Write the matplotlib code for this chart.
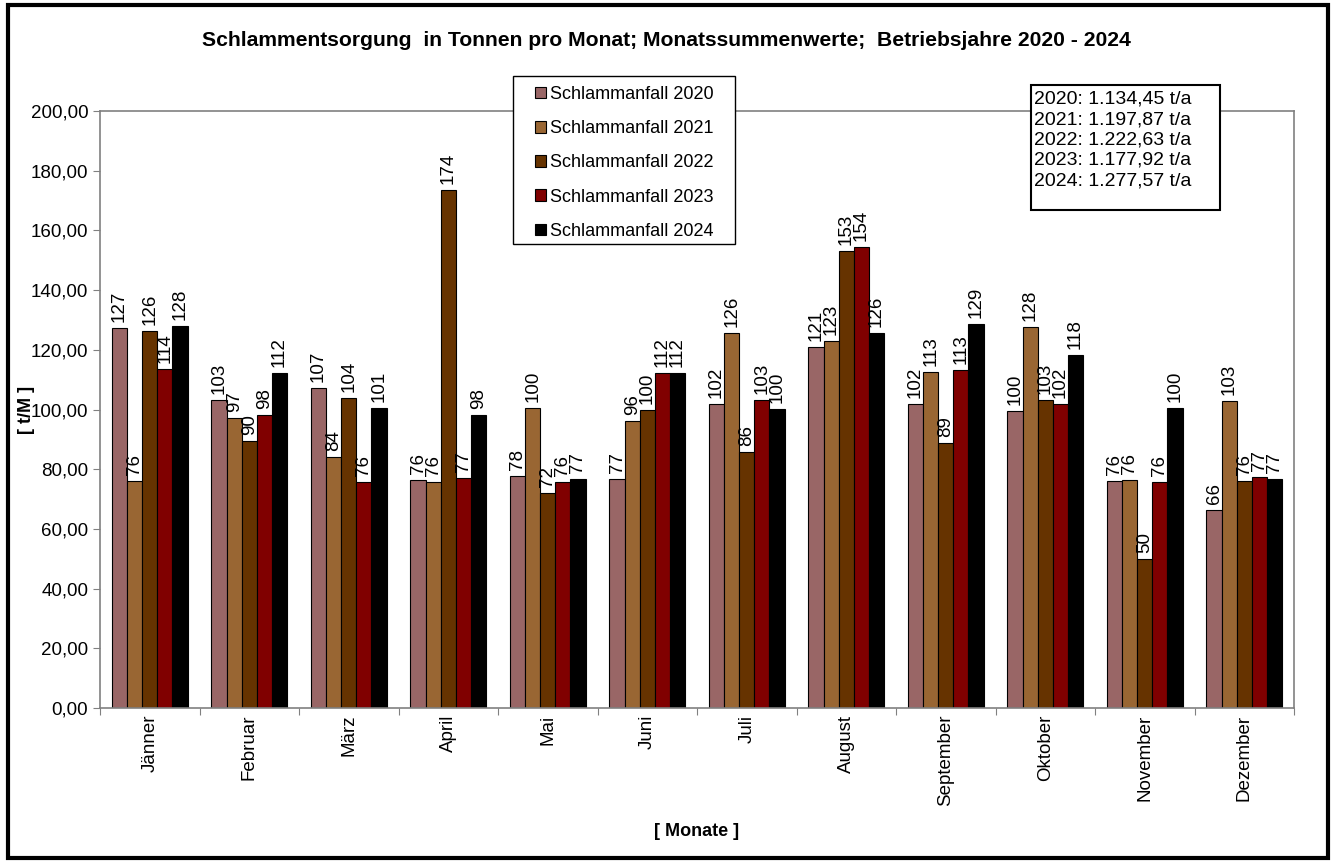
import matplotlib.pyplot as plt
import matplotlib.patches as mpatches
import numpy as np

plt.rcParams['font.family'] = ['Liberation Sans', 'DejaVu Sans']

# Monate und Monatssummen (t/M)
monate = ["Jänner", "Februar", "März", "April", "Mai", "Juni", "Juli",
          "August", "September", "Oktober", "November", "Dezember"]
w2020 = [127.4, 103.3, 107.2, 76.4, 77.6, 76.6, 101.8, 120.9, 102.0, 99.5, 75.9, 66.2]
w2021 = [76.1, 97.1, 84.2, 75.6, 100.4, 96.2, 125.6, 122.8, 112.7, 127.5, 76.4, 102.9]
w2022 = [126.3, 89.6, 103.7, 173.6, 72.1, 99.9, 85.9, 153.2, 88.9, 103.2, 49.8, 76.1]
w2023 = [113.5, 98.2, 75.7, 76.9, 75.8, 112.1, 103.1, 154.3, 113.2, 101.9, 75.6, 77.3]
w2024 = [128.1, 112.2, 100.6, 98.2, 76.6, 112.1, 100.3, 125.5, 128.7, 118.2, 100.4, 76.8]

jahre = ["2020", "2021", "2022", "2023", "2024"]
farben = ["#996666", "#996633", "#663300", "#800000", "#000000"]
summen = ["1.134,45", "1.197,87", "1.222,63", "1.177,92", "1.277,57"]

serien = [w2020, w2021, w2022, w2023, w2024]

W, H = 1333, 863
fig = plt.figure(figsize=(W / 100, H / 100), dpi=100)
ax = fig.add_axes([100 / W, 1 - 708 / H, 1194 / W, 597 / H])

x = np.arange(len(monate))
bw = 0.152
for i, (werte, farbe, jahr) in enumerate(zip(serien, farben, jahre)):
    pos = x + (i - 2) * bw
    ax.bar(pos, werte, bw, color=farbe, edgecolor="black", linewidth=0.8,
           label="Schlammanfall " + jahr)
    for p, v in zip(pos, werte):
        ax.text(p, v + 2, "%.0f" % v, rotation=90, ha="center", va="bottom", fontsize=13.5)

ax.set_xlim(-0.5, len(monate) - 0.5)
ax.set_ylim(0, 200)
ax.set_yticks(np.arange(0, 201, 20))
ax.set_yticklabels(["%d,00" % t for t in range(0, 201, 20)], fontsize=13.5)

# tick marks between the months, labels at the centres
ax.set_xticks(np.arange(-0.5, len(monate), 1.0))
ax.set_xticklabels([])
ax.set_xticks(x, minor=True)
ax.set_xticklabels(monate, minor=True, rotation=90, fontsize=13.5)
ax.tick_params(axis="x", which="minor", length=0, pad=5)
ax.tick_params(axis="x", which="major", length=5, color="#808080")
ax.tick_params(axis="y", length=5, color="#808080")

for s in ax.spines.values():
    s.set_color("#808080")
    s.set_linewidth(1.2)

ax.set_ylabel("[ t/M ]", fontsize=13, fontweight="bold")
ax.yaxis.set_label_coords(-65 / 1194, 0.5)
ax.set_xlabel("[ Monate ]", fontsize=13, fontweight="bold", labelpad=12)

fig.text(0.5, 0.953, "Schlammentsorgung  in Tonnen pro Monat; Monatssummenwerte;  Betriebsjahre 2020 - 2024",
         ha="center", va="center", fontsize=15.2, fontweight="bold")

# legend box drawn separately, legend itself without frame on top
fig.patches.append(mpatches.Rectangle((513 / W, 1 - 244 / H), 222 / W, 168 / H,
                                      transform=fig.transFigure, facecolor="white",
                                      edgecolor="black", linewidth=1.0, zorder=4))
handles, labels = ax.get_legend_handles_labels()
leg = fig.legend(handles, labels, loc="upper left", bbox_to_anchor=(527 / W, 1 - 78 / H),
                 fontsize=13, frameon=False,
                 handlelength=0.6, handleheight=0.6, handletextpad=0.25,
                 labelspacing=0.95, borderpad=0.45, borderaxespad=0)
leg.set_zorder(5)

# Jahressummen box
fig.patches.append(mpatches.Rectangle((1031 / W, 1 - 210 / H), 189 / W, 125 / H,
                                      transform=fig.transFigure, facecolor="white",
                                      edgecolor="black", linewidth=1.5, zorder=4))
txt = "\n".join("%s: %s t/a" % (j, s) for j, s in zip(jahre, summen))
fig.text(1034 / W, 1 - 91 / H, txt, ha="left", va="top", fontsize=14,
         linespacing=1.25, zorder=6)

# outer frame
fig.patches.append(mpatches.Rectangle((0.006, 0.006), 0.99, 0.988, transform=fig.transFigure,
                                      fill=False, edgecolor="black", linewidth=3))

fig.savefig("out.png", dpi=100)
